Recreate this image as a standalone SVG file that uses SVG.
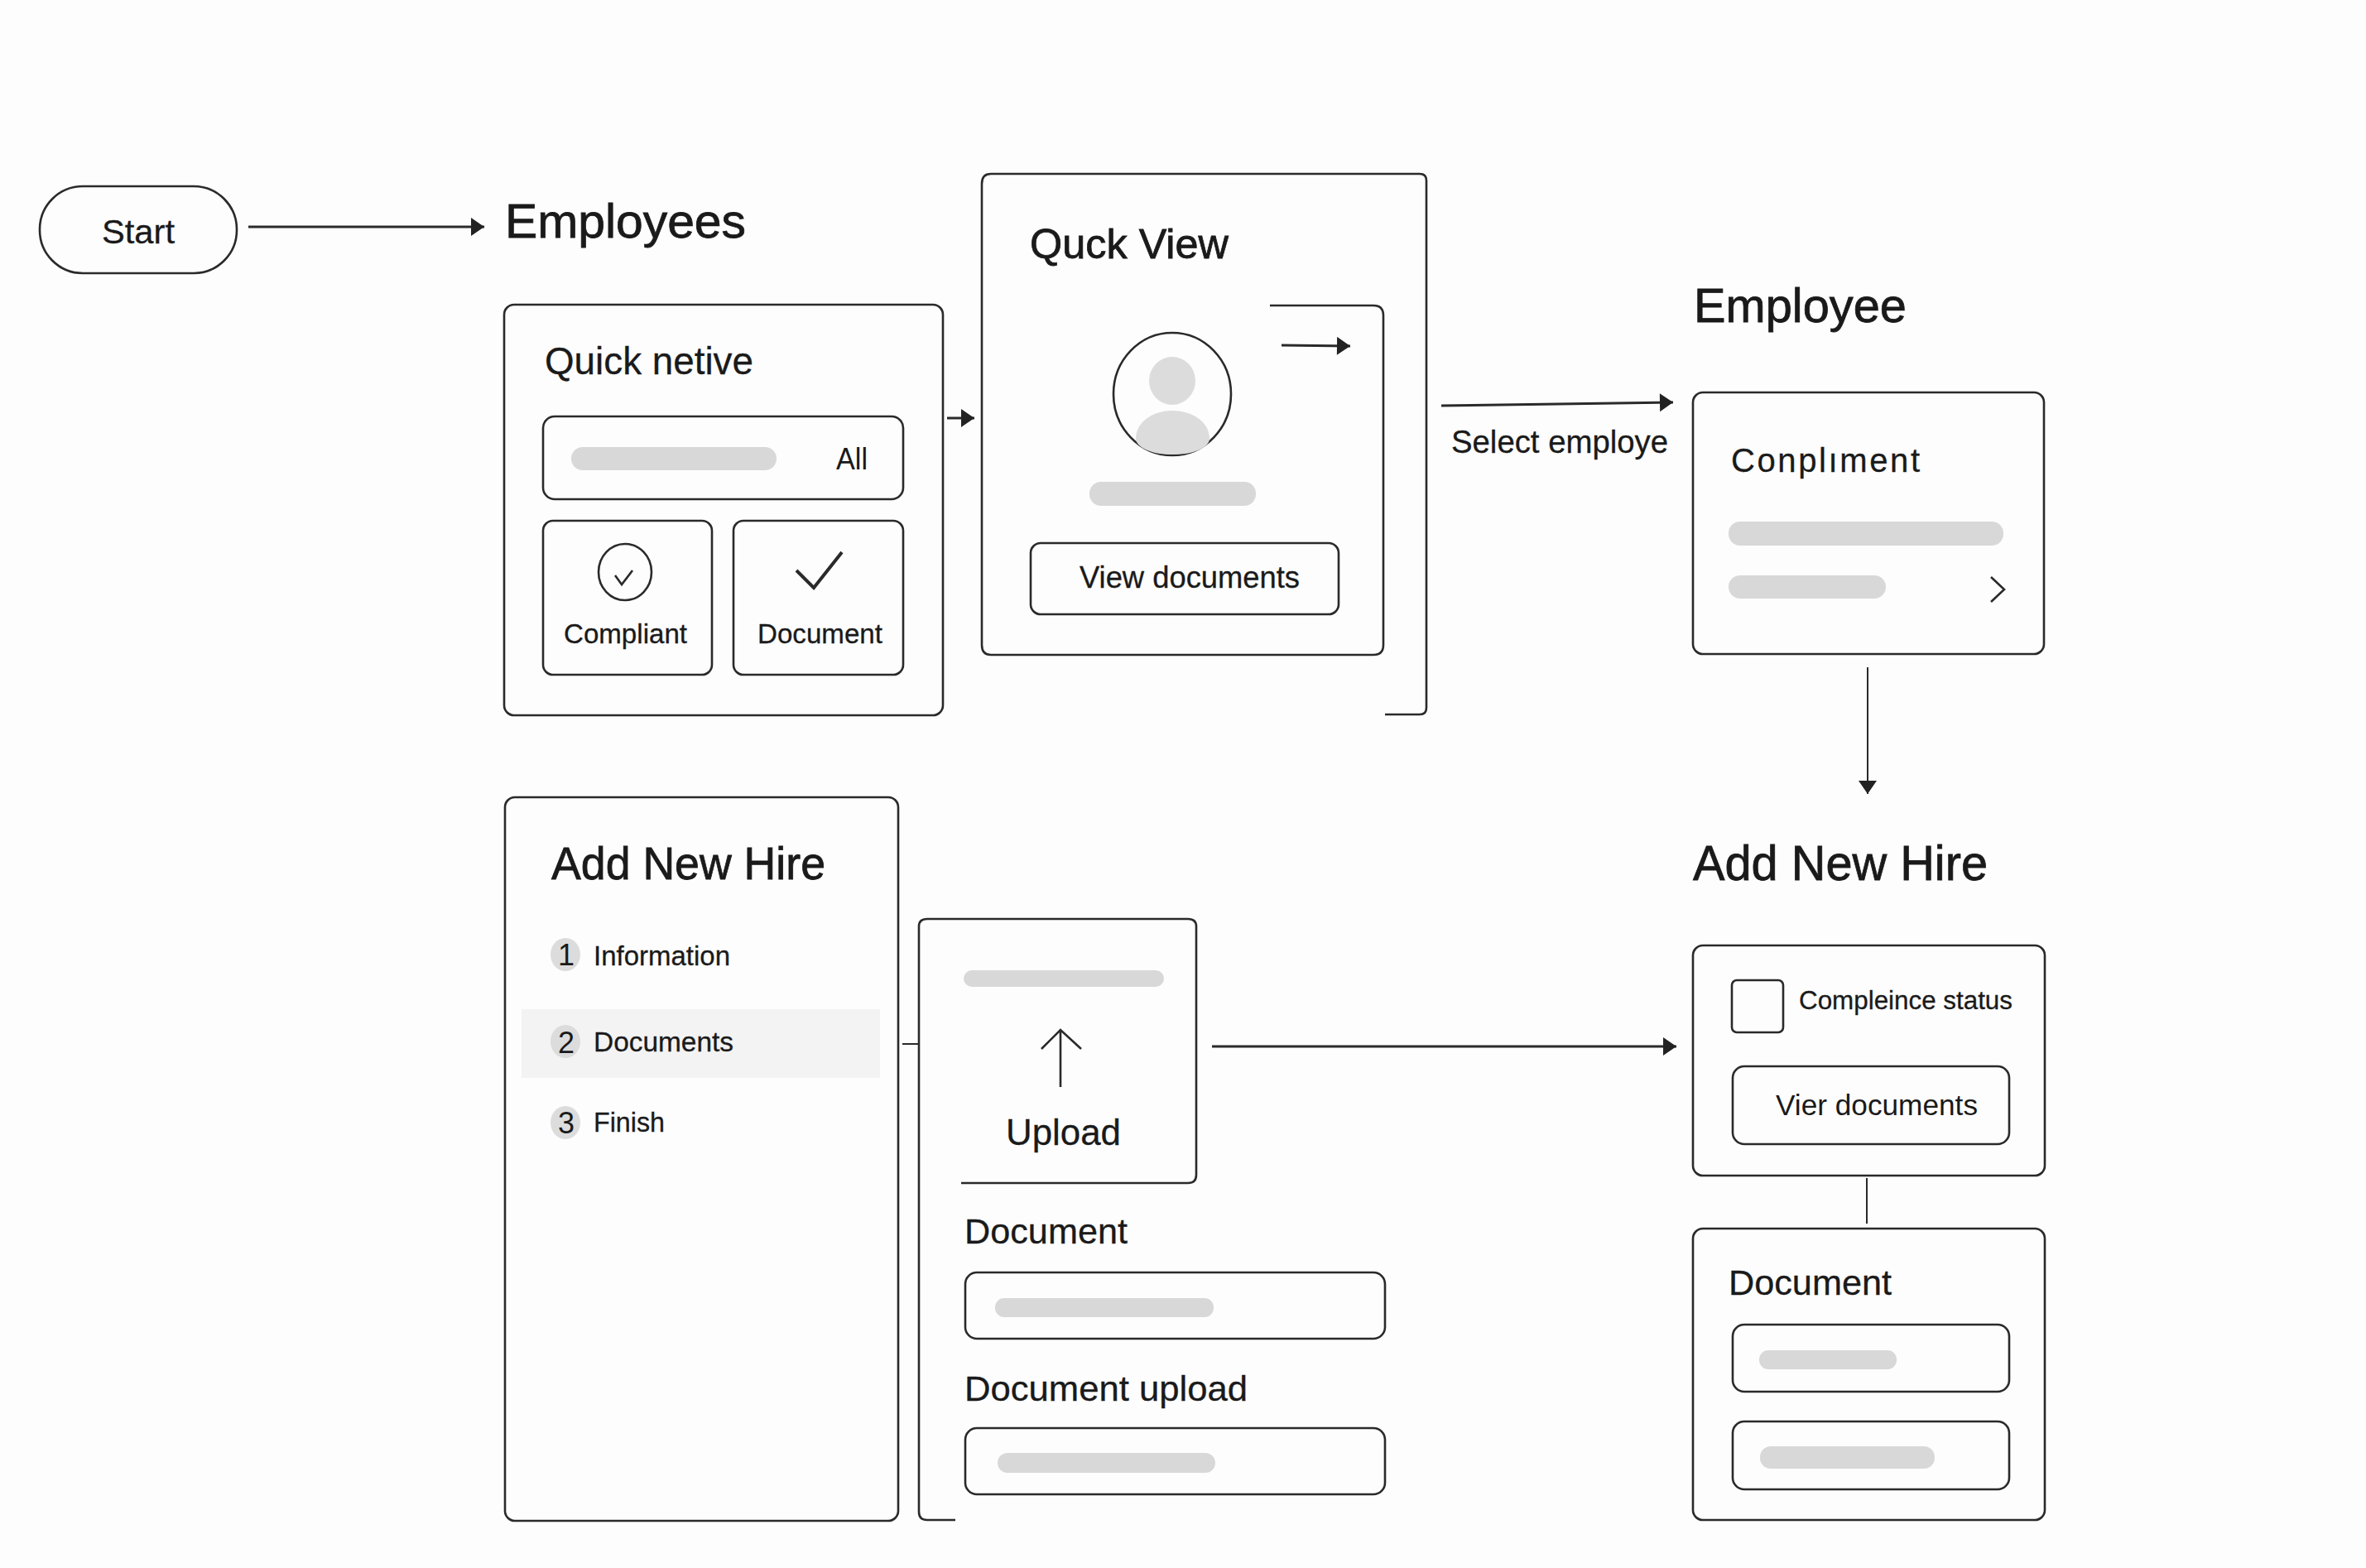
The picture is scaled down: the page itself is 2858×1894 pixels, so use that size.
<svg xmlns="http://www.w3.org/2000/svg" width="2858" height="1894" viewBox="0 0 2858 1894">
<style>
text{font-family:"Liberation Sans",Arial,sans-serif;fill:#1a1a1a}
.h{stroke:#1a1a1a;stroke-width:.8}
.s{stroke:#1a1a1a;stroke-width:.3}
.b{fill:none;stroke:#2a2a2a;stroke-width:2.6}
.c{fill:none;stroke:#2a2a2a;stroke-width:3}
.t{stroke-width:2}
.g{fill:#d8d8d8}
.n{fill:#dcdcdc}
.m{text-anchor:middle}
</style>
<defs>
<marker id="ah" markerUnits="userSpaceOnUse" markerWidth="20" markerHeight="24" refX="18" refY="11" orient="auto"><path d="M2,0 L18,11 L2,22 Z" fill="#222"/></marker>
</defs>
<rect width="2858" height="1894" fill="#fdfdfd"/>
<g id="connectors">
<path class="c" d="M300,274 H585" marker-end="url(#ah)"/>
<path class="c" d="M1144,505 H1177" marker-end="url(#ah)"/>
<path class="c" d="M1548,417 L1631,418" marker-end="url(#ah)"/>
<path class="c" d="M1741,490 L2021,486" marker-end="url(#ah)"/>
<path class="c t" d="M2256,806 V959" marker-end="url(#ah)"/>
<path class="c t" d="M1090,1261 H1110"/>
<path class="c" d="M1464,1264 H2025" marker-end="url(#ah)"/>
<path class="c t" d="M2255,1423 V1478"/>
</g>
<g id="start">
<rect class="b" x="48" y="225" width="238" height="105" rx="52"/>
<text class="s" x="123" y="294" font-size="41" textLength="88" lengthAdjust="spacingAndGlyphs">Start</text>
</g>
<g id="employees-title"><text class="h" x="610" y="287" font-size="58" textLength="291" lengthAdjust="spacingAndGlyphs">Employees</text></g>
<g id="quick-netive">
<rect class="b" x="609" y="368" width="530" height="496" rx="12"/>
<text class="s" x="658" y="452" font-size="46" textLength="252" lengthAdjust="spacingAndGlyphs">Quick netive</text>
<rect class="b" x="656" y="503" width="435" height="100" rx="14"/>
<rect class="g" x="690" y="540" width="248" height="28" rx="14"/>
<text x="1010" y="567" font-size="36" textLength="38" lengthAdjust="spacingAndGlyphs">All</text>
<rect class="b" x="656" y="629" width="204" height="186" rx="12"/>
<ellipse class="b" cx="755" cy="691" rx="32" ry="34"/>
<path class="b" d="M743,695 L751,706 L764,689"/>
<text class="s" x="681" y="777" font-size="33" textLength="149" lengthAdjust="spacingAndGlyphs">Compliant</text>
<rect class="b" x="886" y="629" width="205" height="186" rx="12"/>
<path class="b" style="stroke-width:4" d="M962,689 L983,710 L1017,667"/>
<text class="s" x="915" y="777" font-size="33" textLength="151" lengthAdjust="spacingAndGlyphs">Document</text>
</g>
<g id="quick-view">
<path class="b" d="M1534,369 H1659 Q1671,369 1671,381 V779 Q1671,791 1659,791 H1197 Q1186,791 1186,779 V222 Q1186,210 1197,210 H1715 Q1723,210 1723,218 V855 Q1723,863 1715,863 H1673"/>
<text class="h" x="1244" y="312" font-size="50" textLength="240" lengthAdjust="spacingAndGlyphs">Quck View</text>
<ellipse class="b" cx="1416" cy="476" rx="71" ry="74"/>
<ellipse class="n" cx="1416" cy="460" rx="28" ry="29"/>
<path class="n" d="M1372,530 C1372,510 1392,496 1416,496 C1441,496 1461,510 1461,530 C1461,538 1448,549 1416,549 C1386,549 1372,538 1372,530 Z"/>
<rect class="g" x="1316" y="582" width="201" height="29" rx="14"/>
<rect class="b" x="1245" y="656" width="372" height="86" rx="12"/>
<text class="s" x="1304" y="710" font-size="36" textLength="266" lengthAdjust="spacingAndGlyphs">View documents</text>
</g>
<g id="select-label"><text class="s" x="1753" y="547" font-size="38" textLength="262" lengthAdjust="spacingAndGlyphs">Select employe</text></g>
<g id="employee-title"><text class="h" x="2046" y="389" font-size="58" textLength="257" lengthAdjust="spacingAndGlyphs">Employee</text></g>
<g id="employee">
<rect class="b" x="2045" y="474" width="424" height="316" rx="12"/>
<text class="s" x="2091" y="570" font-size="40" textLength="228" lengthAdjust="spacing">Conplıment</text>
<rect class="g" x="2088" y="630" width="332" height="29" rx="14"/>
<rect class="g" x="2088" y="695" width="190" height="28" rx="14"/>
<path class="b" d="M2405,697 L2421,712 L2405,727"/>
</g>
<g id="add-new-hire-steps">
<rect class="b" x="610" y="963" width="475" height="874" rx="12"/>
<text class="h" x="666" y="1062" font-size="55" textLength="331" lengthAdjust="spacingAndGlyphs">Add New Hire</text>
<rect x="630" y="1219" width="433" height="83" fill="#f3f3f3"/>
<ellipse class="n" cx="683" cy="1153" rx="18" ry="20"/>
<text class="m" x="684" y="1166" font-size="36">1</text>
<text class="s" x="717" y="1166" font-size="33" textLength="165" lengthAdjust="spacingAndGlyphs">Information</text>
<ellipse class="n" cx="683" cy="1258" rx="18" ry="20"/>
<text class="m" x="684" y="1272" font-size="36">2</text>
<text class="s" x="717" y="1270" font-size="33" textLength="169" lengthAdjust="spacingAndGlyphs">Documents</text>
<ellipse class="n" cx="683" cy="1356" rx="18" ry="20"/>
<text class="m" x="684" y="1369" font-size="36">3</text>
<text class="s" x="717" y="1367" font-size="33" textLength="86" lengthAdjust="spacingAndGlyphs">Finish</text>
</g>
<g id="upload">
<path class="b" d="M1161,1429 H1435 Q1445,1429 1445,1419 V1119 Q1445,1110 1435,1110 H1120 Q1110,1110 1110,1119 V1826 Q1110,1836 1120,1836 H1154"/>
<rect class="g" x="1164" y="1172" width="242" height="20" rx="10"/>
<path class="b" d="M1281,1313 V1244 M1258,1267 L1281,1244 L1306,1267"/>
<text class="s" x="1215" y="1383" font-size="44" textLength="139" lengthAdjust="spacingAndGlyphs">Upload</text>
<text class="s" x="1165" y="1502" font-size="43" textLength="197" lengthAdjust="spacingAndGlyphs">Document</text>
<rect class="b" x="1166" y="1537" width="507" height="80" rx="14"/>
<rect class="g" x="1202" y="1568" width="264" height="23" rx="11"/>
<text class="s" x="1165" y="1692" font-size="42" textLength="342" lengthAdjust="spacingAndGlyphs">Document upload</text>
<rect class="b" x="1166" y="1725" width="507" height="80" rx="14"/>
<rect class="g" x="1205" y="1755" width="263" height="24" rx="12"/>
</g>
<g id="add-new-hire-title"><text class="h" x="2045" y="1063" font-size="59" textLength="356" lengthAdjust="spacingAndGlyphs">Add New Hire</text></g>
<g id="compliance">
<rect class="b" x="2045" y="1142" width="425" height="278" rx="12"/>
<rect class="b" x="2092" y="1184" width="62" height="63" rx="6"/>
<text class="s" x="2173" y="1219" font-size="31" textLength="258" lengthAdjust="spacingAndGlyphs">Compleince status</text>
<rect class="b" x="2093" y="1288" width="334" height="94" rx="14"/>
<text x="2145" y="1347" font-size="35" textLength="244" lengthAdjust="spacingAndGlyphs">Vier documents</text>
</g>
<g id="document">
<rect class="b" x="2045" y="1484" width="425" height="352" rx="12"/>
<text class="s" x="2088" y="1564" font-size="43" textLength="197" lengthAdjust="spacingAndGlyphs">Document</text>
<rect class="b" x="2093" y="1600" width="334" height="81" rx="14"/>
<rect class="g" x="2125" y="1631" width="166" height="23" rx="11"/>
<rect class="b" x="2093" y="1717" width="334" height="82" rx="14"/>
<rect class="g" x="2126" y="1747" width="211" height="27" rx="13"/>
</g>
</svg>
